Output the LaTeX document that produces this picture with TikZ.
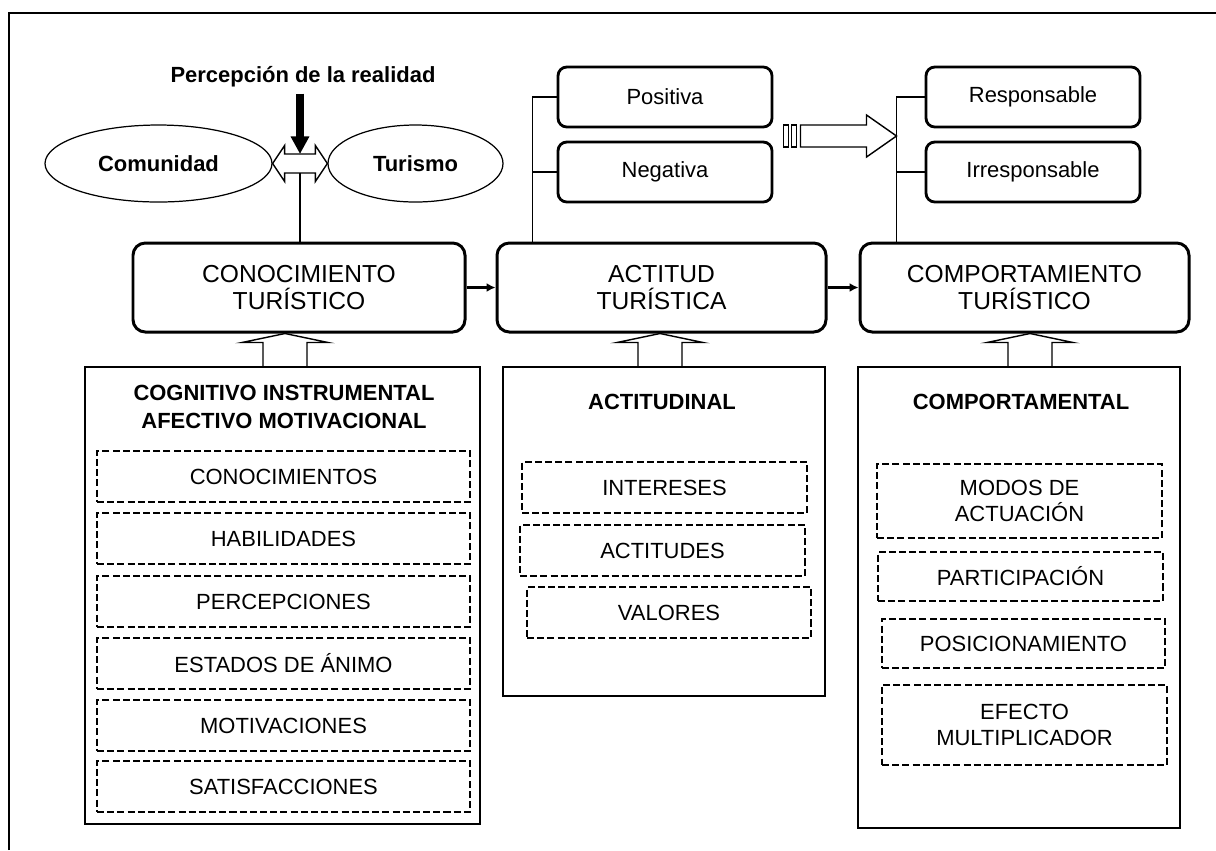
\documentclass[tikz,border=0pt]{standalone}
\usepackage{fontspec}
\setmainfont{Liberation Sans}
\usetikzlibrary{calc,shapes.geometric,arrows.meta}
\newcommand{\pxu}{0.02cm}
\tikzset{
  box-main/.style={
    draw=black, line width=1.7pt, rounded corners=7pt, fill=white,
    align=center, inner sep=0pt, font=\fontsize{14}{15.6}\selectfont,
    minimum height=89*\pxu
  },
  box-small/.style={
    draw=black, line width=1.6pt, rounded corners=5pt, fill=white,
    inner sep=0pt, font=\fontsize{12.5}{15}\selectfont,
    minimum width=214*\pxu, minimum height=60*\pxu
  },
  oval/.style={ellipse, draw=black, line width=0.7pt, inner sep=0pt,
    font=\bfseries\fontsize{12.5}{15}\selectfont, minimum height=77*\pxu},
  panel/.style={draw=black, line width=1.2pt, inner sep=0pt},
  panel-head/.style={align=center, inner sep=0pt, font=\bfseries\fontsize{12.5}{16}\selectfont},
  dash-box/.style={draw=black, line width=0.7pt, dash pattern=on 4pt off 1.8pt,
    align=center, inner sep=0pt, font=\fontsize{12.5}{14.8}\selectfont},
  thin-line/.style={line width=0.6pt},
  flow-arrow/.style={line width=1.3pt, -{Latex[length=5pt,width=5pt]}},
  thick-arrow/.style={line width=4.5pt, -{Triangle[length=10pt,width=10pt]}},
  block-arrow/.style={draw=black, line width=0.8pt, fill=white, line join=miter}
}
\newcommand{\upblock}[2]{%
  \draw[block-arrow, fill=none] ($(#1)+(-22,0)$) -- ($(#1 |- #2.south)+(-22,9)$)
    -- ($(#1 |- #2.south)+(-43,9)$) -- (#1 |- #2.south)
    -- ($(#1 |- #2.south)+(43,9)$) -- ($(#1 |- #2.south)+(22,9)$) -- ($(#1)+(22,0)$);
}

\begin{document}
\begin{tikzpicture}[x=0.02cm, y=-0.02cm]
  \useasboundingbox (0,0) rectangle (1216,850);
  % Outer frame
  \draw[thin-line] (9,850) -- (9,13) -- (1216,13);

  % Perception of reality
  \node[font=\bfseries\fontsize{12.5}{15}\selectfont] (title) at (303,77) {Percepción de la realidad};
  \node[oval, minimum width=227*\pxu] (comu) at (158.5,163.5) {Comunidad};
  \node[oval, minimum width=175*\pxu] (turi) at (415.5,163.5) {Turismo};

  % Main stages
  \node[box-main, minimum width=332*\pxu] (cono) at (299,287.5) {CONOCIMIENTO\\TURÍSTICO};
  \node[box-main, minimum width=329*\pxu] (acti) at (661.5,287.5) {ACTITUD\\TURÍSTICA};
  \node[box-main, minimum width=329*\pxu] (comp) at (1024.5,287.5) {COMPORTAMIENTO\\TURÍSTICO};

  % Options
  \node[box-small] (posi) at (665,97) {Positiva};
  \node[box-small] (nega) at (665,172) {Negativa};
  \node[box-small] (resp) at (1033,97) {Responsable};
  \node[box-small] (irre) at (1033,172) {Irresponsable};

  % Panels
  \node[panel, minimum width=395*\pxu, minimum height=457*\pxu] (cogn) at (282.5,595.5) {};
  \node[panel, minimum width=322*\pxu, minimum height=329*\pxu] (actd) at (664,531.5) {};
  \node[panel, minimum width=322*\pxu, minimum height=461*\pxu] (cmpt) at (1019,597.5) {};
  \node[panel-head] (cognH) at (284,407) {COGNITIVO INSTRUMENTAL\\AFECTIVO MOTIVACIONAL};
  \node[panel-head] (actdH) at (662,402) {ACTITUDINAL};
  \node[panel-head] (cmptH) at (1021,402) {COMPORTAMENTAL};

  % Dashed items
  \foreach \t/\y [count=\i] in {CONOCIMIENTOS/476.5, HABILIDADES/538.5, PERCEPCIONES/601.5,
      ESTADOS DE ÁNIMO/663.5, MOTIVACIONES/725.5, SATISFACCIONES/786.5}
    \node[dash-box, minimum width=373*\pxu, minimum height=51*\pxu] (cogn\i) at (283.5,\y) {\t};
  \node[dash-box, minimum width=285*\pxu, minimum height=51*\pxu] (actd1) at (664.5,487.5) {INTERESES};
  \node[dash-box, minimum width=285*\pxu, minimum height=51*\pxu] (actd2) at (662.5,550.5) {ACTITUDES};
  \node[dash-box, minimum width=284*\pxu, minimum height=51*\pxu] (actd3) at (669,612.5) {VALORES};
  \node[dash-box, minimum width=285*\pxu, minimum height=74*\pxu] (cmpt1) at (1019.5,501) {MODOS DE\\ACTUACIÓN};
  \node[dash-box, minimum width=285*\pxu, minimum height=49*\pxu] (cmpt2) at (1020.5,576.5) {PARTICIPACIÓN};
  \node[dash-box, minimum width=283*\pxu, minimum height=49*\pxu] (cmpt3) at (1023.5,643.5) {POSICIONAMIENTO};
  \node[dash-box, minimum width=285*\pxu, minimum height=80*\pxu] (cmpt4) at (1024.5,725) {EFECTO\\MULTIPLICADOR};

  % Flow between stages
  \draw[flow-arrow] (cono.east) -- (acti.west);
  \draw[flow-arrow] (acti.east) -- (comp.west);

  % Perception arrows
  \coordinate (meet) at (300,163.5);
  \draw[block-arrow] (comu.east) -- ++(12,-18) -- ++(0,8.5) -- ($(turi.west)+(-12,-9.5)$)
    -- ++(0,-8.5) -- (turi.west) -- ++(-12,18) -- ++(0,-8.5)
    -- ($(comu.east)+(12,9.5)$) -- ++(0,8.5) -- cycle;
  \draw[thick-arrow] (title.south -| meet) -- ($(meet)+(0,-9.5)$);
  \draw[thin-line] ($(meet)+(0,9.5)$) -- (meet |- cono.north);

  % Branches to options
  \coordinate (aj) at ($(acti.north west)+(37,0)$);
  \coordinate (cj) at ($(comp.north west)+(38,0)$);
  \draw[thin-line] (aj) |- (posi.west);
  \draw[thin-line] (aj) |- (nega.west);
  \draw[thin-line] (cj) |- (resp.west);
  \draw[thin-line] (cj) |- (irre.west);

  % Striped arrow
  \coordinate (fat) at ($(cj |- posi.east)+(0,39)$);
  \draw[block-arrow] (fat) -- ++(-30,-21) -- ++(0,10) -- ++(-66,0) -- ++(0,22)
    -- ++(66,0) -- ++(0,10) -- cycle;
  \draw[block-arrow] ($(fat)+(-113,-11)$) rectangle ++(5,22);
  \draw[block-arrow] ($(fat)+(-105,-11)$) rectangle ++(5,22);

  % Panels feed the stages
  \coordinate (upA) at (285,367);
  \coordinate (upB) at (660,367);
  \coordinate (upC) at (1030,367);
  \foreach \u/\b in {upA/cono, upB/acti, upC/comp}
    \upblock{\u}{\b};
\end{tikzpicture}
\end{document}
